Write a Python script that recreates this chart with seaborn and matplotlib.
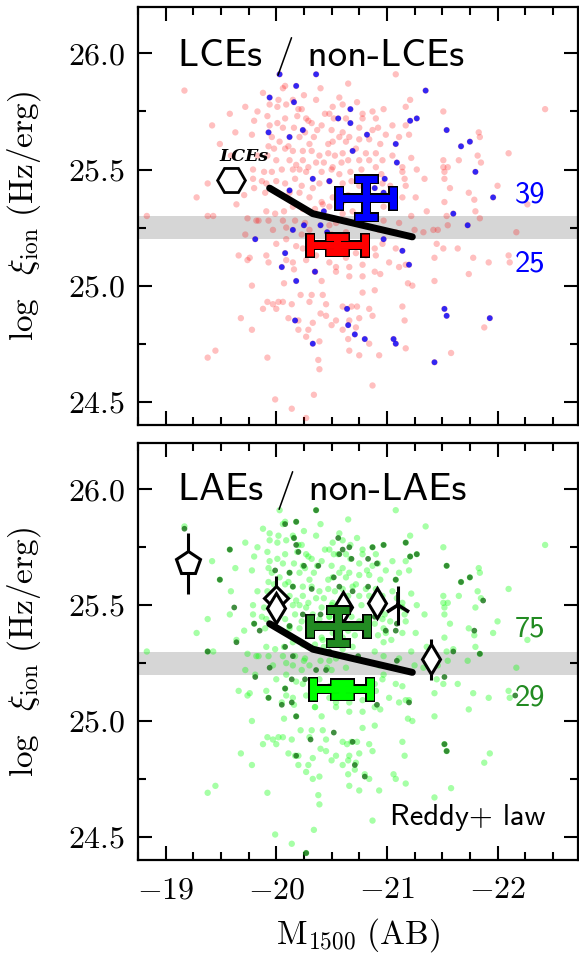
import matplotlib
matplotlib.use("Agg")
import matplotlib.pyplot as plt
from matplotlib.ticker import MultipleLocator, FuncFormatter
import numpy as np
import pandas as pd
import seaborn as sns

# ---------------- data ----------------
nonlce_M = [-21.08, -19.17, -20.06, -20.08, -20.40, -20.65, -19.88, -20.15, -20.25, -20.36, -20.57, -20.73, -21.21, -20.02, -19.94, -20.09, -20.20, -20.23, -19.72, -19.58, -19.83, -20.01, -20.27, -20.29, -20.44, -20.48, -20.51, -20.60, -20.78, -20.87, -20.97, -21.17, -21.51, -22.43,
            -19.92, -20.08, -20.19, -20.32, -20.41, -20.52, -20.63, -20.78, -20.90, -20.92, -21.05, -21.17, -21.20, -19.42, -19.63, -19.80, -19.94, -20.01, -20.06, -20.16, -20.26, -20.37, -20.50, -20.60, -20.66, -20.75, -20.87, -21.11, -19.78, -19.96, -20.03, -20.11, -20.21, -20.30, -20.34, -20.47, -20.51, -20.57, -20.63, -20.75, -20.84, -20.94, -20.99, -21.83, -21.84,
            -19.49, -19.93, -19.98, -20.08, -20.15, -20.24, -20.32, -20.39, -20.47, -20.53, -20.60, -20.72, -20.81, -20.90, -21.05, -21.22, -22.10, -21.82, -21.85, -21.65, -21.51, -19.59, -19.83, -19.92, -20.00, -20.12, -20.18, -20.24, -20.29, -20.36, -20.43, -20.51, -20.59, -20.65, -20.75, -20.84, -20.90, -20.96, -21.14, -21.27, -21.51, -21.55, -19.79, -19.89, -19.96, -20.05, -20.15, -20.21, -20.27, -20.41, -20.50, -20.57, -20.67, -20.77, -20.95, -21.14, -21.16, -21.34, -21.52, -21.57,
            -19.38, -19.58, -19.79, -19.87, -19.91, -20.00, -20.08, -20.17, -20.23, -20.33, -20.39, -20.48, -20.60, -20.68, -20.75, -20.96, -21.03, -21.17, -21.26, -21.52, -21.74, -22.00, -22.27, -19.28, -19.71, -19.80, -19.90, -20.12, -20.21, -20.30, -20.41, -20.51, -20.60, -20.65, -20.71, -20.92, -20.99, -21.14, -21.36, -21.52, -21.79, -21.80,
            -19.64, -19.91, -19.99, -20.07, -20.15, -20.24, -20.35, -20.42, -20.48, -20.60, -20.69, -20.97, -21.04, -21.22, -21.84, -19.38, -19.43, -18.83, -19.74, -19.82, -19.84, -19.93, -20.06, -20.17, -20.26, -20.48, -20.54, -20.63, -20.89, -20.97, -21.11, -21.25, -21.42, -21.46, -21.54, -21.55, -22.17, -19.72, -19.97, -20.09, -20.23, -20.30, -20.50, -20.63, -20.93, -21.08, -21.33,
            -20.00, -20.09, -20.18, -20.24, -20.39, -20.48, -20.57, -20.63, -20.72, -20.81, -20.89, -20.96, -21.08, -21.45, -21.51, -21.64, -21.78, -19.66, -19.74, -19.76, -19.91, -19.93, -20.09, -20.15, -20.27, -20.36, -20.48, -20.54, -20.66, -20.78, -20.90, -21.02, -21.11, -21.17, -21.43, -21.92, -22.10, -22.11, -20.16, -20.35, -20.41, -20.54, -20.66, -20.78, -20.89, -20.94, -21.74, -21.43, -21.19, -21.23,
            -19.78, -20.07, -20.78, -20.89, -19.92, -20.02, -20.06, -19.97, -20.14, -20.30, -20.45, -20.60, -20.68, -20.73, -20.84, -21.14, -20.22, -20.32, -20.42, -19.88, -20.00, -20.11, -20.20, -20.33, -20.45, -20.40, -20.54, -20.66, -20.75, -20.87, -21.16, -19.68, -19.78, -20.20, -20.29, -20.50, -20.60, -20.72, -21.88,
            -20.27, -20.39, -20.65, -20.84, -19.45, -19.38, -19.92, -20.38, -20.39, -20.66, -20.75, -20.93, -21.17, -21.58, -20.87, -19.99, -20.14, -20.34, -20.27]
nonlce_xi = [25.91, 25.84, 25.85, 25.86, 25.85, 25.87, 25.83, 25.80, 25.82, 25.80, 25.81, 25.79, 25.80, 25.80, 25.78, 25.78, 25.76, 25.76, 25.77, 25.74, 25.75, 25.77, 25.72, 25.71, 25.74, 25.74, 25.77, 25.78, 25.74, 25.75, 25.76, 25.77, 25.75, 25.76,
             25.73, 25.72, 25.73, 25.70, 25.69, 25.72, 25.72, 25.72, 25.72, 25.68, 25.69, 25.69, 25.65, 25.69, 25.66, 25.71, 25.69, 25.70, 25.68, 25.68, 25.66, 25.67, 25.67, 25.66, 25.64, 25.68, 25.67, 25.64, 25.65, 25.64, 25.62, 25.60, 25.64, 25.61, 25.64, 25.61, 25.62, 25.64, 25.62, 25.63, 25.63, 25.61, 25.65, 25.66, 25.64,
             25.61, 25.60, 25.59, 25.59, 25.58, 25.58, 25.58, 25.56, 25.57, 25.56, 25.57, 25.59, 25.57, 25.57, 25.56, 25.55, 25.57, 25.56, 25.53, 25.54, 25.54, 25.56, 25.56, 25.56, 25.54, 25.54, 25.52, 25.54, 25.51, 25.53, 25.53, 25.51, 25.53, 25.54, 25.54, 25.54, 25.51, 25.54, 25.51, 25.50, 25.51, 25.51, 25.50, 25.49, 25.49, 25.50, 25.50, 25.50, 25.49, 25.49, 25.50, 25.48, 25.49, 25.50, 25.48, 25.49, 25.46, 25.46, 25.49, 25.42,
             25.44, 25.46, 25.46, 25.45, 25.44, 25.45, 25.44, 25.46, 25.43, 25.42, 25.44, 25.45, 25.44, 25.45, 25.43, 25.44, 25.43, 25.43, 25.38, 25.46, 25.40, 25.43, 25.35, 25.38, 25.39, 25.42, 25.40, 25.40, 25.40, 25.38, 25.36, 25.38, 25.36, 25.39, 25.37, 25.37, 25.38, 25.38, 25.32, 25.36, 25.37, 25.32,
             25.35, 25.32, 25.31, 25.32, 25.34, 25.33, 25.33, 25.35, 25.34, 25.31, 25.32, 25.34, 25.35, 25.30, 25.29, 25.30, 25.30, 25.30, 25.29, 25.28, 25.28, 25.28, 25.28, 25.28, 25.27, 25.26, 25.27, 25.28, 25.30, 25.28, 25.27, 25.24, 25.24, 25.24, 25.30, 25.26, 25.23, 25.22, 25.24, 25.25, 25.22, 25.24, 25.22, 25.23, 25.24, 25.23, 25.23,
             25.18, 25.20, 25.17, 25.16, 25.18, 25.15, 25.14, 25.12, 25.14, 25.13, 25.16, 25.18, 25.16, 25.18, 25.16, 25.16, 25.12, 25.13, 25.11, 25.12, 25.13, 25.10, 25.11, 25.10, 25.11, 25.13, 25.10, 25.08, 25.08, 25.09, 25.13, 25.10, 25.08, 25.09, 25.12, 25.10, 25.13, 25.10, 25.07, 25.06, 25.02, 25.06, 25.04, 25.04, 25.06, 25.05, 25.05, 25.02, 25.01, 25.00,
             25.00, 25.01, 24.97, 24.98, 24.93, 24.93, 24.93, 24.92, 24.92, 24.93, 24.92, 24.91, 24.91, 24.91, 24.90, 24.91, 24.96, 24.96, 24.96, 24.90, 24.90, 24.86, 24.85, 24.84, 24.87, 24.88, 24.85, 24.85, 24.86, 24.87, 24.85, 24.86, 24.81, 24.81, 24.81, 24.83, 24.81, 24.82, 24.82,
             24.78, 24.76, 24.77, 24.75, 24.72, 24.69, 24.69, 24.68, 24.64, 24.72, 24.70, 24.70, 24.73, 24.71, 24.57, 24.51, 24.47, 24.53, 24.43]

lce_M = [-20.03, -20.36, -20.18, -19.94, -20.16, -21.35, -20.67, -20.56, -20.67, -21.21, -21.27, -19.93, -20.12, -20.24, -20.82, -21.54, -21.08, -21.67, -21.75, -20.69, -21.09, -21.80, -20.33, -20.48, -20.98, -20.12, -20.89, -20.97, -21.96, -20.43, -21.60, -21.73, -20.15, -20.25, -20.40, -20.46, -19.81, -20.97, -21.14, -20.08, -21.20, -20.05, -20.18, -20.35, -20.64, -21.52, -21.54, -21.93, -20.17, -20.65, -20.71, -20.80, -20.33, -21.06, -21.08, -21.43]
lce_xi = [25.91, 25.91, 25.86, 25.81, 25.79, 25.84, 25.76, 25.72, 25.70, 25.71, 25.72, 25.66, 25.64, 25.67, 25.65, 25.67, 25.61, 25.60, 25.62, 25.58, 25.53, 25.49, 25.46, 25.45, 25.46, 25.41, 25.42, 25.40, 25.38, 25.32, 25.31, 25.26, 25.24, 25.26, 25.26, 25.23, 25.20, 25.20, 25.15, 25.14, 25.09, 25.08, 25.02, 25.06, 24.90, 24.90, 24.87, 24.86, 24.85, 24.83, 24.79, 24.77, 24.75, 24.77, 24.75, 24.67]

lae_M = [-19.17, -20.36, -20.08, -20.18, -19.58, -20.16, -20.18, -20.56, -20.66, -20.60, -20.87, -20.97, -21.17, -21.21, -21.27, -20.20, -19.99, -20.12, -20.25, -20.38, -20.57, -20.68, -20.83, -20.91, -19.49, -20.15, -20.32, -20.52, -20.57, -20.69, -20.83, -21.08, -21.67, -21.75, -21.87, -21.54, -19.62, -19.80, -19.85, -20.12, -20.24, -20.40, -20.89, -20.99, -21.08, -21.09, -21.79, -19.64, -19.38, -20.08, -20.15, -20.48, -20.74, -21.09, -21.60, -21.84, -19.94, -20.36, -20.45, -19.81, -20.08, -20.14, -20.26, -21.52, -22.16, -19.93, -20.05, -20.14, -20.18, -20.91, -21.20, -20.52, -20.69, -21.52, -21.54, -20.31, -20.18, -20.71, -20.80, -20.27]
lae_xi = [25.83, 25.91, 25.85, 25.86, 25.74, 25.79, 25.76, 25.79, 25.75, 25.74, 25.75, 25.76, 25.77, 25.71, 25.72, 25.73, 25.65, 25.64, 25.67, 25.67, 25.72, 25.70, 25.70, 25.68, 25.61, 25.58, 25.57, 25.62, 25.58, 25.56, 25.58, 25.61, 25.60, 25.62, 25.52, 25.67, 25.49, 25.42, 25.39, 25.41, 25.46, 25.46, 25.45, 25.39, 25.39, 25.42, 25.39, 25.34, 25.30, 25.32, 25.28, 25.30, 25.28, 25.26, 25.30, 25.29, 25.23, 25.22, 25.22, 25.19, 25.14, 25.18, 25.18, 25.19, 25.11, 25.10, 25.07, 25.08, 25.02, 25.07, 25.08, 24.95, 24.91, 24.90, 24.87, 24.92, 24.85, 24.81, 24.76, 24.43]

# stacked measurements (M, xi, xerr, yerr)
lce_stack = [-20.81, 25.378, 0.245, 0.082]
nonlce_stack = [-20.55, 25.177, 0.248, 0.032]
lae_stack = [-20.56, 25.408, 0.256, 0.070]
nonlae_stack = [-20.59, 25.136, 0.256, 0.030]

# Reddy+ relation
reddy_M = [-19.94, -20.33, -20.78, -21.23]
reddy_xi = [25.42, 25.31, 25.26, 25.21]

# literature points (bottom panel)
lit_M = [-19.20, -20.00, -20.00, -20.60, -20.91, -21.10, -21.40]
lit_xi = [25.68, 25.53, 25.487, 25.49, 25.51, 25.50, 25.267]
lit_err = [0.13, 0.095, 0.0, 0.0, 0.0, 0.084, 0.088]
lce_lit_M = [-19.59]
lce_lit_xi = [25.457]

band = [25.2, 25.3]
xlim = (-18.75, -22.73)
ylim = (24.4, 26.2)
counts_top = ["39", "25"]
counts_bot = ["75", "29"]

# ---------------- style ----------------
sns.set_theme(style="ticks")
plt.rcParams.update({
    "font.family": ["cmr10", "DejaVu Serif"],
    "mathtext.fontset": "cm",
    "axes.formatter.use_mathtext": True,
    "axes.unicode_minus": True,
    "axes.linewidth": 1.6,
    "axes.edgecolor": "black",
    "text.color": "black",
    "axes.labelcolor": "black",
    "xtick.color": "black",
    "ytick.color": "black",
})

fig = plt.figure(figsize=(5.79, 9.55), dpi=100)
ax1 = fig.add_axes([0.2383, 0.5550, 0.7605, 0.4377])
ax2 = fig.add_axes([0.2383, 0.0995, 0.7605, 0.4366])

all_M = nonlce_M + lce_M
all_xi = nonlce_xi + lce_xi
df_all = pd.DataFrame({"M": all_M, "xi": all_xi})
df_lce = pd.DataFrame({"M": lce_M, "xi": lce_xi})
df_lae = pd.DataFrame({"M": lae_M, "xi": lae_xi})
df_reddy = pd.DataFrame({"M": reddy_M, "xi": reddy_xi})


def cross(ax, st, color):
    ax.errorbar(st[0], st[1], xerr=st[2], yerr=st[3], fmt="none", ecolor="black",
                elinewidth=7.2, capsize=9.0, capthick=7.2, zorder=6)
    ax.errorbar(st[0], st[1], xerr=st[2], yerr=st[3], fmt="none", ecolor=color,
                elinewidth=5.0, capsize=8.0, capthick=5.0, zorder=7)


def style_axes(ax, show_x):
    ax.set_xlim(*xlim)
    ax.set_ylim(*ylim)
    ax.axhspan(band[0], band[1], color="#d6d6d6", lw=0, zorder=0)
    ax.xaxis.set_major_locator(MultipleLocator(1))
    ax.xaxis.set_minor_locator(MultipleLocator(0.25))
    ax.yaxis.set_major_locator(MultipleLocator(0.5))
    ax.yaxis.set_minor_locator(MultipleLocator(0.25))
    ax.tick_params(which="both", direction="in", top=True, right=True, width=1.5, colors="black")
    ax.tick_params(which="major", length=10, labelsize=23, pad=9)
    ax.tick_params(axis="x", which="major", pad=12)
    ax.tick_params(which="minor", length=6)
    ax.yaxis.set_major_formatter(FuncFormatter(lambda v, p: r"$%.1f$" % v))
    if show_x:
        ax.xaxis.set_major_formatter(FuncFormatter(lambda v, p: r"$%d$" % round(v)))
        ax.set_xlabel(r"$\rm M_{1500}\ (AB)$", fontsize=24, labelpad=9)
    else:
        ax.tick_params(axis="x", labelbottom=False)
        ax.set_xlabel("")
    ax.set_ylabel(r"$\log\ \ \xi_{\rm ion}\ ({\rm Hz/erg})$", fontsize=24)
    ax.yaxis.set_label_coords(-0.215, 0.5)
    for s in ax.spines.values():
        s.set_linewidth(1.6)
        s.set_color("black")


# ---------------- top panel ----------------
sns.scatterplot(data=df_all, x="M", y="xi", ax=ax1, color="#ff0000", alpha=0.25, s=21,
                edgecolor="none", legend=False, zorder=2)
sns.scatterplot(data=df_lce, x="M", y="xi", ax=ax1, color="#0000ff", alpha=0.8, s=17,
                edgecolor="none", legend=False, zorder=3)
sns.lineplot(data=df_reddy, x="M", y="xi", ax=ax1, color="black", lw=5, sort=False,
             estimator=None, zorder=4, solid_capstyle="round")
ax1.plot(lce_lit_M, lce_lit_xi, marker="H", ms=20, mfc="white", mec="black", mew=2,
         ls="none", zorder=5)
ax1.text(-19.71, 25.556, "LCEs", fontfamily="DejaVu Serif", fontstyle="italic",
         fontweight="bold", fontsize=12.5, ha="center", va="center", zorder=5)
cross(ax1, lce_stack, "#0000ff")
cross(ax1, nonlce_stack, "#ff0000")
ax1.text(0.091, 0.859, "LCEs / non-LCEs", transform=ax1.transAxes, fontfamily="cmss10",
         fontsize=28, ha="left", va="baseline", zorder=8)
ax1.text(0.891, 0.55, counts_top[0], transform=ax1.transAxes, fontfamily="cmss10",
         fontsize=22, color="#0000ff", ha="center", va="center", zorder=8)
ax1.text(0.891, 0.385, counts_top[1], transform=ax1.transAxes, fontfamily="cmss10",
         fontsize=22, color="#0000ff", ha="center", va="center", zorder=8)
style_axes(ax1, False)

# ---------------- bottom panel ----------------
sns.scatterplot(data=df_all, x="M", y="xi", ax=ax2, color="#00ff00", alpha=0.35, s=21,
                edgecolor="none", legend=False, zorder=2)
sns.scatterplot(data=df_lae, x="M", y="xi", ax=ax2, color="#1f7a1f", alpha=0.85, s=17,
                edgecolor="none", legend=False, zorder=3)
sns.lineplot(data=df_reddy, x="M", y="xi", ax=ax2, color="black", lw=5, sort=False,
             estimator=None, zorder=4, solid_capstyle="round")
lit_markers = ["p", "D", "d", "d", "d", "2", "d"]
lit_sizes = [18, 12, 15, 15, 15, 19, 15]
for xm, ym, e, mk, ms in zip(lit_M, lit_xi, lit_err, lit_markers, lit_sizes):
    ax2.errorbar(xm, ym, yerr=e if e > 0 else None, fmt=mk, ms=ms, mfc="white", mec="black",
                 mew=2.2 if mk != "2" else 2.6, ecolor="black", elinewidth=2.2, capsize=0, zorder=5)
cross(ax2, lae_stack, "#228b22")
cross(ax2, nonlae_stack, "#00ff00")
ax2.text(0.091, 0.863, "LAEs / non-LAEs", transform=ax2.transAxes, fontfamily="cmss10",
         fontsize=28, ha="left", va="baseline", zorder=8)
ax2.text(0.891, 0.554, counts_bot[0], transform=ax2.transAxes, fontfamily="cmss10",
         fontsize=22, color="#228b22", ha="center", va="center", zorder=8)
ax2.text(0.891, 0.388, counts_bot[1], transform=ax2.transAxes, fontfamily="cmss10",
         fontsize=22, color="#228b22", ha="center", va="center", zorder=8)
ax2.text(0.925, 0.084, "Reddy+ law", transform=ax2.transAxes, fontfamily="cmss10",
         fontsize=22, ha="right", va="baseline", zorder=8)
style_axes(ax2, True)

fig.savefig("out.png", dpi=100)
